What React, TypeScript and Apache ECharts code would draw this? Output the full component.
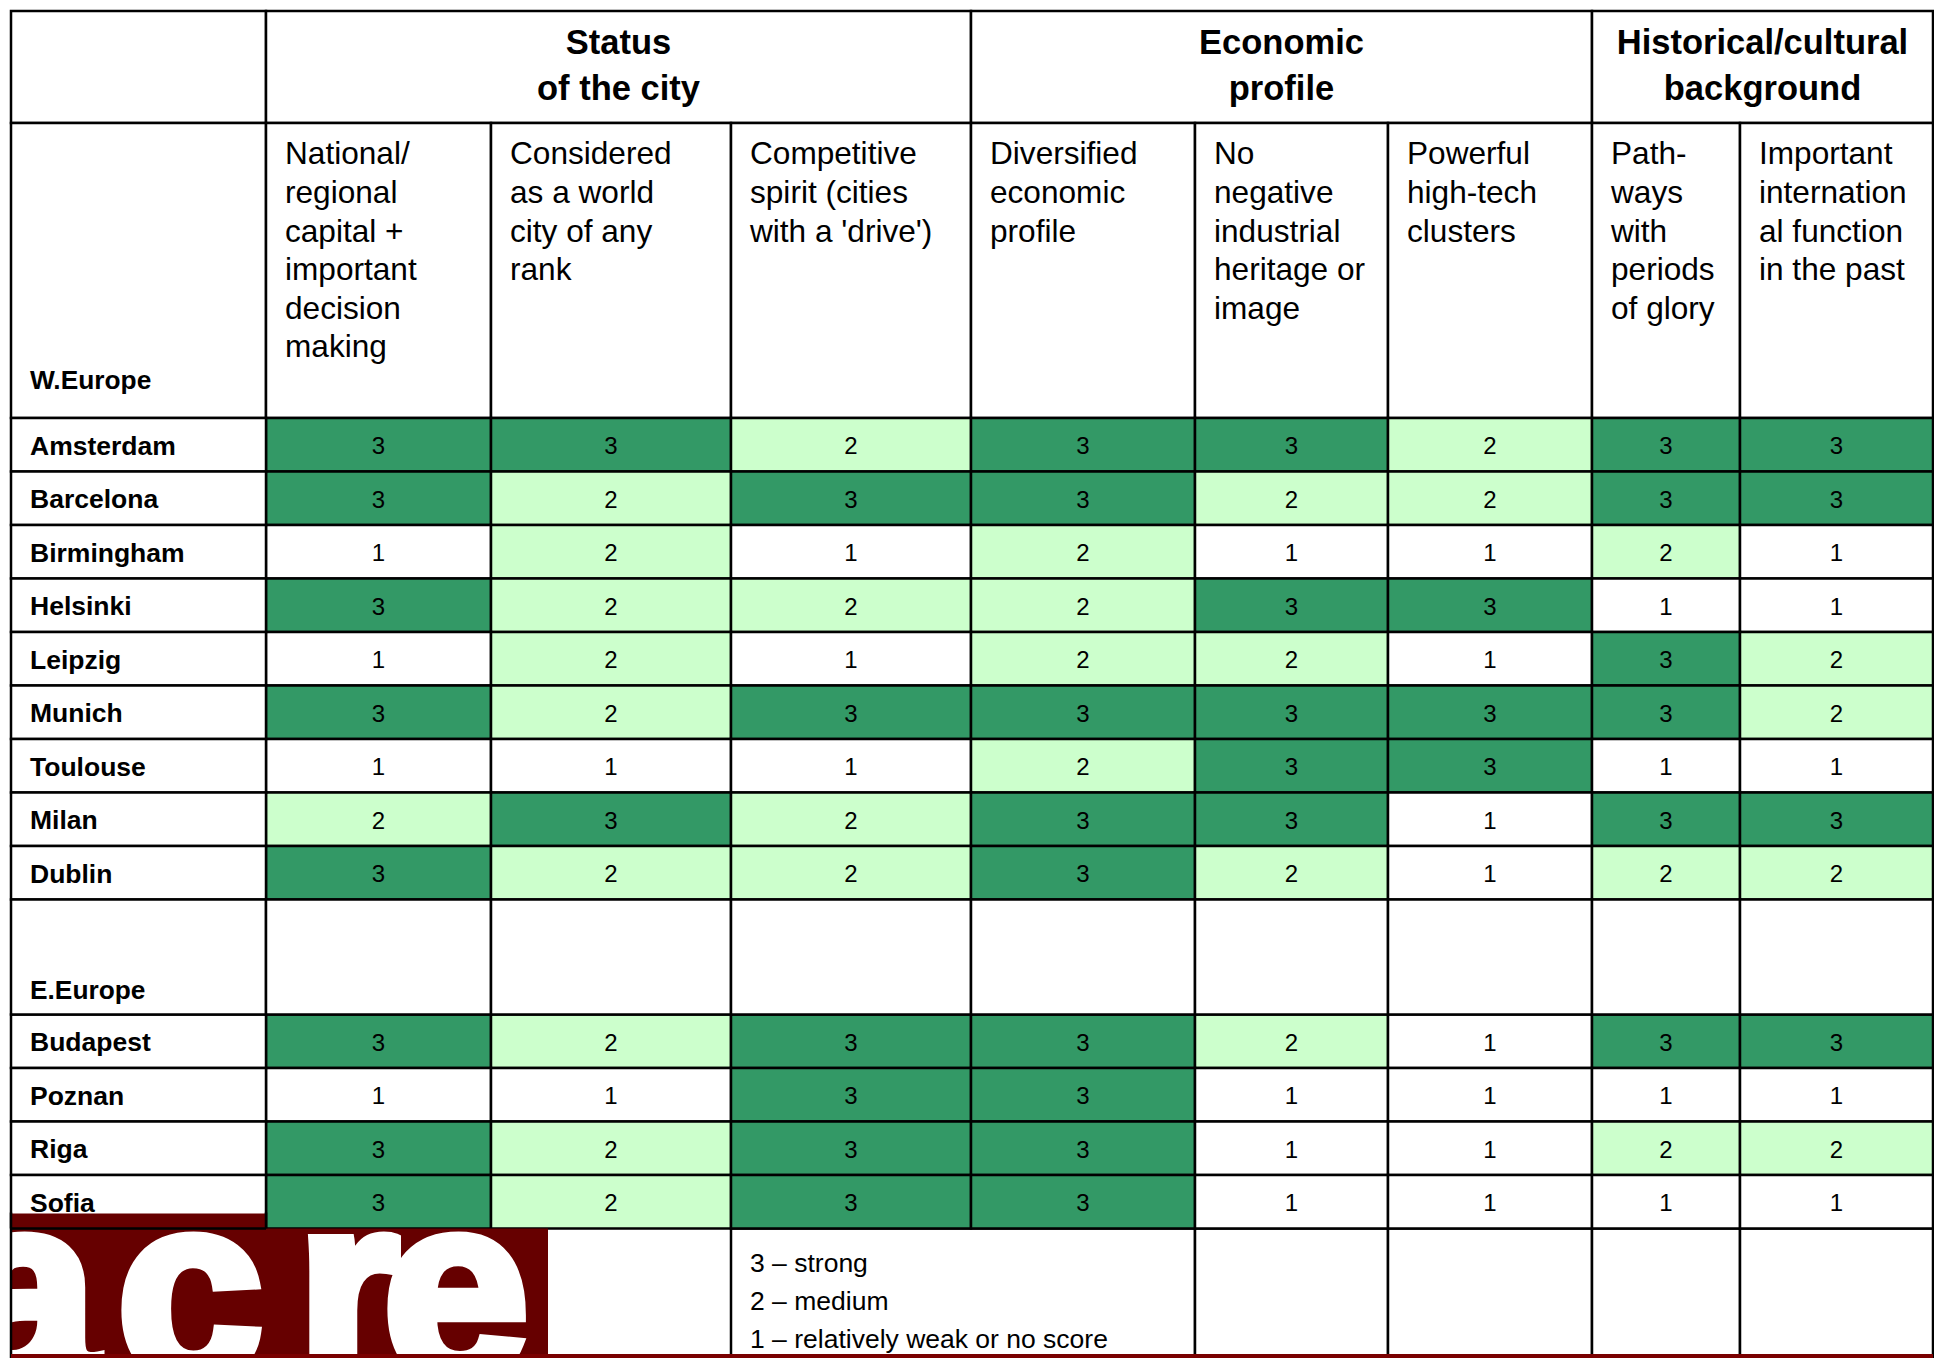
import React, { useEffect, useRef } from "react";
import * as echarts from "echarts";

// ---------------- data ----------------
const groupTitles = ["Status\nof the city", "Economic\nprofile", "Historical/cultural\nbackground"];
const groupSpans = [3, 3, 2];
const criteria = [
  "National/\nregional\ncapital +\nimportant\ndecision\nmaking",
  "Considered\nas a world\ncity of any\nrank",
  "Competitive\nspirit (cities\nwith a 'drive')",
  "Diversified\neconomic\nprofile",
  "No\nnegative\nindustrial\nheritage or\nimage",
  "Powerful\nhigh-tech\nclusters",
  "Path-\nways\nwith\nperiods\nof glory",
  "Important\ninternation\nal function\nin the past",
];
const westLabel = "W.Europe";
const westCities = ["Amsterdam", "Barcelona", "Birmingham", "Helsinki", "Leipzig", "Munich", "Toulouse", "Milan", "Dublin"];
const westScores = [
  [3, 3, 2, 3, 3, 2, 3, 3],
  [3, 2, 3, 3, 2, 2, 3, 3],
  [1, 2, 1, 2, 1, 1, 2, 1],
  [3, 2, 2, 2, 3, 3, 1, 1],
  [1, 2, 1, 2, 2, 1, 3, 2],
  [3, 2, 3, 3, 3, 3, 3, 2],
  [1, 1, 1, 2, 3, 3, 1, 1],
  [2, 3, 2, 3, 3, 1, 3, 3],
  [3, 2, 2, 3, 2, 1, 2, 2],
];
const eastLabel = "E.Europe";
const eastCities = ["Budapest", "Poznan", "Riga", "Sofia"];
const eastScores = [
  [3, 2, 3, 3, 2, 1, 3, 3],
  [1, 1, 3, 3, 1, 1, 1, 1],
  [3, 2, 3, 3, 1, 1, 2, 2],
  [3, 2, 3, 3, 1, 1, 1, 1],
];
const legendLines = ["3 – strong", "2 – medium", "1 – relatively weak or no score"];
const logoLetters = ["a", "c", "r", "e"];

// ---------------- layout & style ----------------
const W = 1934;
const H = 1358;
const LEFT = 11;
const TOP = 11;
const GROUP_ROW_BOTTOM = 123;
const HEADER_BOTTOM = 418;
const labelColWidth = 255;
const colWidths = [225, 240, 240, 224, 193, 204, 148, 193];
const ROW_PX = 53.5;
const GAP_ROWS = 2.15;
const FONT = '"Liberation Sans", Arial, Helvetica, sans-serif';
const LINE = "#000";
const LW = 2.5;
const scoreColors: Record<number, string> = { 3: "#339966", 2: "#CCFFCC", 1: "#FFFFFF" };
const MAROON = "#660000";

const xEdges: number[] = [0];
[labelColWidth, ...colWidths].forEach((w) => xEdges.push(xEdges[xEdges.length - 1] + w));
const totalX = xEdges[xEdges.length - 1];
const xPx = xEdges.map((e) => LEFT + e);
const eastStart = westCities.length + GAP_ROWS;
const totalSlots = eastStart + eastCities.length;
const gridHeight = totalSlots * ROW_PX;
const tableBottom = HEADER_BOTTOM + gridHeight;

function txt(text: string, x: number, y: number, size: number, opts: any = {}) {
  const align = opts.align || "left";
  const valign = opts.valign || "middle";
  const style: any = {
    text,
    x,
    y,
    fontSize: size,
    fontFamily: opts.family || FONT,
    fontWeight: opts.bold ? "bold" : "normal",
    fill: opts.fill || "#000",
    lineHeight: opts.lineHeight,
    align,
    textAlign: align,
    verticalAlign: valign,
    textVerticalAlign: valign,
  };
  if (opts.stroke) {
    style.stroke = opts.stroke;
    style.lineWidth = opts.strokeWidth;
    style.lineJoin = "round";
  }
  return { type: "text", z: opts.z ?? 10, style };
}

function cellRect(x: number, y: number, w: number, h: number, fill = "#fff", z = 5, stroke: string | null = LINE) {
  return {
    type: "rect",
    z,
    shape: { x, y, width: w, height: h },
    style: { fill, stroke: stroke || "none", lineWidth: stroke ? LW : 0 },
  };
}

export default function App() {
  const ref = useRef<HTMLDivElement>(null);

  useEffect(() => {
    if (!ref.current) return;
    const chart = echarts.init(ref.current, null, { renderer: "svg" });

    const cellData: number[][] = [];
    westScores.forEach((row, r) => row.forEach((v, c) => cellData.push([c, r, v])));
    eastScores.forEach((row, r) => row.forEach((v, c) => cellData.push([c, eastStart + r, v])));

    const cityNames = [...westCities, ...eastCities];
    const cityData: number[][] = [
      ...westCities.map((_, r) => [0, r]),
      ...eastCities.map((_, r) => [0, eastStart + r]),
    ];

    const gapData: number[][] = xEdges.slice(0, -1).map((_, c) => [c, westCities.length]);

    // ---------- graphic: headers, legend, logo ----------
    const graphics: any[] = [];
    // group row
    graphics.push(cellRect(xPx[0], TOP, xPx[1] - xPx[0], GROUP_ROW_BOTTOM - TOP));
    let ci = 1;
    groupTitles.forEach((t, g) => {
      const x0 = xPx[ci];
      const x1 = xPx[ci + groupSpans[g]];
      graphics.push(cellRect(x0, TOP, x1 - x0, GROUP_ROW_BOTTOM - TOP));
      graphics.push(txt(t, (x0 + x1) / 2, 19.5, 34.5, { bold: true, align: "center", valign: "top", lineHeight: 45.5 }));
      ci += groupSpans[g];
    });
    // criteria row
    graphics.push(cellRect(xPx[0], GROUP_ROW_BOTTOM, xPx[1] - xPx[0], HEADER_BOTTOM - GROUP_ROW_BOTTOM));
    graphics.push(txt(westLabel, xPx[0] + 19, HEADER_BOTTOM - 38, 26.3, { bold: true }));
    criteria.forEach((t, c) => {
      const x0 = xPx[c + 1];
      const x1 = xPx[c + 2];
      graphics.push(cellRect(x0, GROUP_ROW_BOTTOM, x1 - x0, HEADER_BOTTOM - GROUP_ROW_BOTTOM));
      graphics.push(txt(t, x0 + 19, 134, 31.6, { valign: "top", lineHeight: 38.6 }));
    });

    // legend row
    const legY = tableBottom;
    const legH = H - legY + 20;
    graphics.push(cellRect(xPx[3], legY, xPx[5] - xPx[3], legH));
    graphics.push(txt(legendLines.join("\n"), xPx[3] + 19, legY + 15, 26.5, { valign: "top", lineHeight: 38 }));
    for (let c = 5; c < xPx.length - 1; c++) {
      graphics.push(cellRect(xPx[c], legY, xPx[c + 1] - xPx[c], legH));
    }

    // logo
    const logoRight = 548;
    graphics.push(cellRect(LEFT, legY, logoRight - LEFT, H - legY, MAROON, 50, null));
    graphics.push(cellRect(LEFT, legY - 15, xPx[1] - LEFT, 15, MAROON, 50, null));
    const letterX = [24, 190, 348, 456];
    logoLetters.forEach((l, i) => {
      graphics.push(
        txt(l, letterX[i], 1288, 262, { bold: true, align: "center", fill: "#fff", stroke: "#fff", strokeWidth: 12, z: 55 })
      );
    });
    // re-draw borders on top of the logo
    graphics.push(cellRect(0, legY, LEFT - 1, H - legY, "#fff", 58, null));
    graphics.push({ type: "line", z: 60, shape: { x1: LEFT, y1: legY - 16, x2: LEFT, y2: H }, style: { stroke: LINE, lineWidth: LW } });
    graphics.push({ type: "line", z: 60, shape: { x1: LEFT, y1: legY, x2: xPx[1], y2: legY }, style: { stroke: LINE, lineWidth: LW } });
    graphics.push({ type: "line", z: 60, shape: { x1: xPx[1], y1: legY - 16, x2: xPx[1], y2: legY }, style: { stroke: LINE, lineWidth: LW } });
    // bottom maroon rule
    graphics.push(cellRect(LEFT, H - 4, xPx[xPx.length - 1] - LEFT, 4, "#7a0000", 65, null));

    const option: any = {
      animation: false,
      backgroundColor: "#fff",
      grid: { left: LEFT, top: HEADER_BOTTOM, width: totalX, height: gridHeight, containLabel: false },
      xAxis: { type: "value", min: 0, max: totalX, show: false },
      yAxis: { type: "value", min: 0, max: totalSlots, inverse: true, show: false },
      graphic: { elements: graphics },
      series: [
        {
          type: "custom",
          name: "scores",
          data: cellData,
          encode: { x: 0, y: 1 },
          z: 5,
          renderItem: (_p: any, api: any) => {
            const c = api.value(0) as number;
            const s = api.value(1) as number;
            const v = api.value(2) as number;
            const a = api.coord([xEdges[c + 1], s]);
            const b = api.coord([xEdges[c + 2], s + 1]);
            return {
              type: "group",
              children: [
                {
                  type: "rect",
                  shape: { x: a[0], y: a[1], width: b[0] - a[0], height: b[1] - a[1] },
                  style: { fill: scoreColors[v], stroke: LINE, lineWidth: LW },
                },
                {
                  type: "text",
                  style: {
                    text: String(v),
                    x: (a[0] + b[0]) / 2,
                    y: (a[1] + b[1]) / 2 + 1,
                    align: "center",
                    textAlign: "center",
                    verticalAlign: "middle",
                    textVerticalAlign: "middle",
                    fontSize: 24,
                    fontFamily: FONT,
                    fill: "#000",
                  },
                },
              ],
            };
          },
        },
        {
          type: "custom",
          name: "cities",
          data: cityData,
          encode: { x: 0, y: 1 },
          z: 5,
          renderItem: (p: any, api: any) => {
            const s = api.value(1) as number;
            const a = api.coord([xEdges[0], s]);
            const b = api.coord([xEdges[1], s + 1]);
            return {
              type: "group",
              children: [
                {
                  type: "rect",
                  shape: { x: a[0], y: a[1], width: b[0] - a[0], height: b[1] - a[1] },
                  style: { fill: "#fff", stroke: LINE, lineWidth: LW },
                },
                {
                  type: "text",
                  style: {
                    text: cityNames[p.dataIndex],
                    x: a[0] + 19,
                    y: (a[1] + b[1]) / 2 + 1,
                    align: "left",
                    textAlign: "left",
                    verticalAlign: "middle",
                    textVerticalAlign: "middle",
                    fontSize: 26.5,
                    fontWeight: "bold",
                    fontFamily: FONT,
                    fill: "#000",
                  },
                },
              ],
            };
          },
        },
        {
          type: "custom",
          name: "section",
          data: gapData,
          encode: { x: 0, y: 1 },
          z: 5,
          renderItem: (_p: any, api: any) => {
            const c = api.value(0) as number;
            const s = api.value(1) as number;
            const a = api.coord([xEdges[c], s]);
            const b = api.coord([xEdges[c + 1], s + GAP_ROWS]);
            const children: any[] = [
              {
                type: "rect",
                shape: { x: a[0], y: a[1], width: b[0] - a[0], height: b[1] - a[1] },
                style: { fill: "#fff", stroke: LINE, lineWidth: LW },
              },
            ];
            if (c === 0) {
              children.push({
                type: "text",
                style: {
                  text: eastLabel,
                  x: a[0] + 19,
                  y: b[1] - 25,
                  align: "left",
                  textAlign: "left",
                  verticalAlign: "middle",
                  textVerticalAlign: "middle",
                  fontSize: 26.3,
                  fontWeight: "bold",
                  fontFamily: FONT,
                  fill: "#000",
                },
              });
            }
            return { type: "group", children };
          },
        },
      ],
    };

    chart.setOption(option);
    return () => chart.dispose();
  }, []);

  return (
    <div
      ref={ref}
      style={{ position: "absolute", left: 0, top: 0, width: W, height: H, background: "#fff" }}
    />
  );
}
